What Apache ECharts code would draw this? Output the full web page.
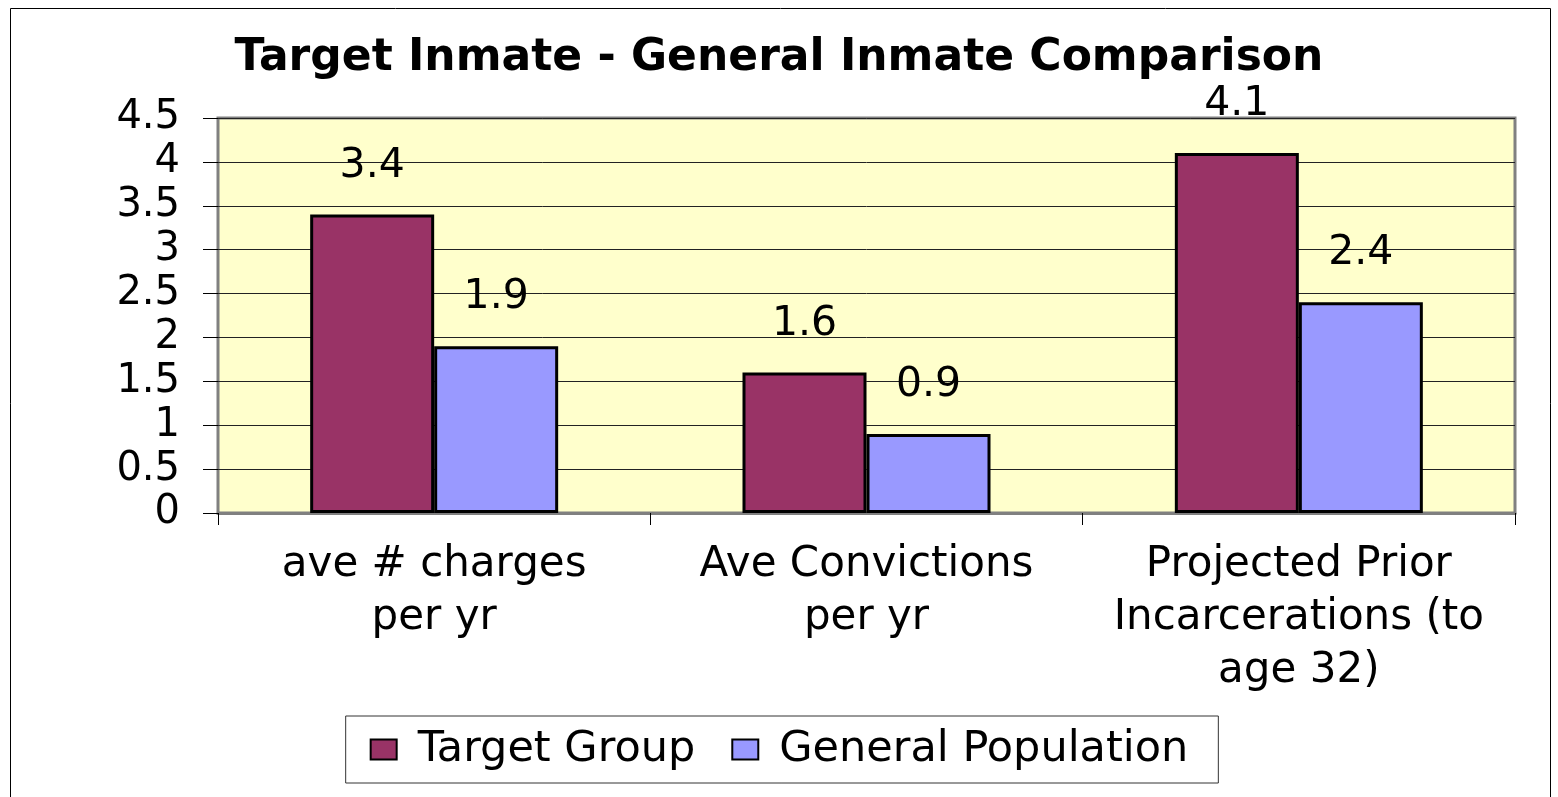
<!DOCTYPE html>
<html>
<head>
<meta charset="utf-8">
<script src="https://cdn.jsdelivr.net/npm/echarts@6/dist/echarts.min.js"></script>
<style>
  html, body { margin: 0; padding: 0; background: #fff; }
  #chart { width: 1558px; height: 797px; }
</style>
</head>
<body>
<div id="chart"></div>
<script>
// data
const categories = ['ave # charges\nper yr', 'Ave Convictions\nper yr', 'Projected Prior\nIncarcerations (to\nage 32)'];
const targetGroup = [3.4, 1.6, 4.1];
const generalPopulation = [1.9, 0.9, 2.4];
const seriesNames = ['Target Group', 'General Population'];

const FONT = '"DejaVu Sans", "Liberation Sans", Arial, sans-serif';

const myChart = echarts.init(document.getElementById('chart'));

function barSeries(name, data, color) {
	return {
		name: name,
		type: 'bar',
		data: data,
		barWidth: 124,
		barGap: '0%',
		itemStyle: { color: color, borderColor: '#000', borderWidth: 3 },
		label: {
			show: true,
			position: 'top',
			distance: 28,
			color: '#000',
			fontSize: 41,
			fontFamily: FONT,
			formatter: function (p) { return p.value.toFixed(1); }
		}
	};
}

let option = {
	backgroundColor: '#fff',
	animation: false,
	title: {
		text: 'Target Inmate - General Inmate Comparison',
		left: 'center',
		top: 32,
		textStyle: { fontSize: 44, fontWeight: 'bold', color: '#000', fontFamily: FONT }
	},
	graphic: [{
		type: 'rect',
		left: 8, top: 6,
		shape: { width: 1540, height: 800 },
		style: { fill: null, stroke: '#000', lineWidth: 1 },
		z: -10
	}],
	grid: {
		left: 218, top: 118, right: 43, bottom: 284,
		show: true,
		backgroundColor: '#FFFFCC',
		borderColor: '#808080',
		borderWidth: 3
	},
	legend: {
		data: seriesNames,
		left: 'center',
		top: 716,
		icon: 'rect',
		itemWidth: 26,
		itemHeight: 20,
		itemGap: 36,
		padding: [12, 30, 12, 24],
		borderColor: '#333',
		borderWidth: 1,
		textStyle: { fontSize: 43, color: '#000', fontFamily: FONT, padding: [0, 0, 0, 16] }
	},
	xAxis: {
		type: 'category',
		data: categories,
		axisLine: { lineStyle: { color: '#808080', width: 3 } },
		axisTick: { show: true, length: 12, lineStyle: { color: '#000', width: 1 } },
		axisLabel: {
			margin: 26,
			fontSize: 42,
			lineHeight: 53,
			color: '#000',
			fontFamily: FONT,
			interval: 0
		}
	},
	yAxis: {
		type: 'value',
		min: 0,
		max: 4.5,
		interval: 0.5,
		axisLine: { show: false },
		axisTick: { show: true, length: 15, lineStyle: { color: '#000' } },
		splitLine: { lineStyle: { color: '#222', width: 1 } },
		axisLabel: { margin: 38, fontSize: 40, color: '#000', fontFamily: FONT }
	},
	series: [
		barSeries(seriesNames[0], targetGroup, '#993366'),
		barSeries(seriesNames[1], generalPopulation, '#9999FF')
	]
};

myChart.setOption(option);
</script>
</body>
</html>
